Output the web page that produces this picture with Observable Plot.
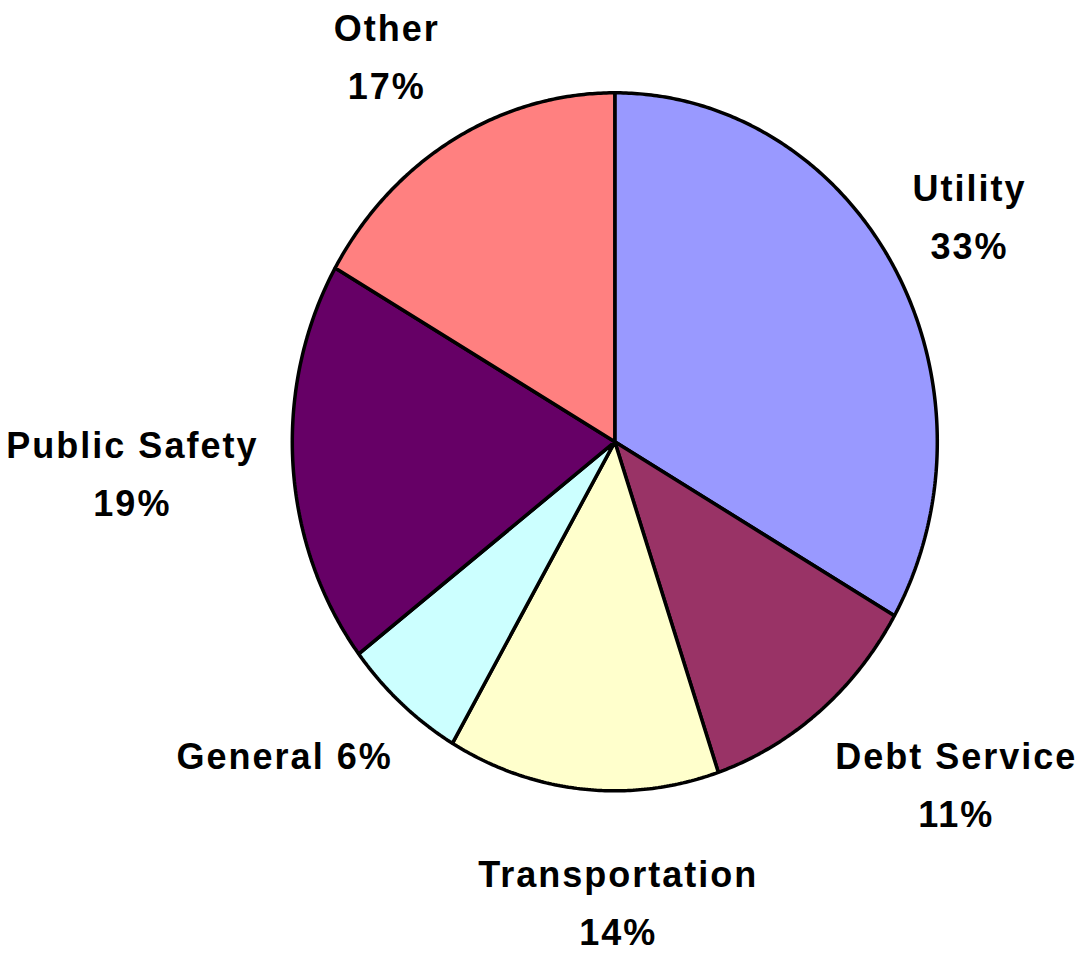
<!DOCTYPE html>
<html>
<head>
<meta charset="utf-8">
<script src="https://cdn.jsdelivr.net/npm/d3@7"></script>
<script src="https://cdn.jsdelivr.net/npm/@observablehq/plot@0.6"></script>
<style>
  html, body { margin: 0; padding: 0; background: #ffffff; }
  #chart svg text { letter-spacing: 2px; }
</style>
</head>
<body>
<div id="chart"></div>
<script>
// Data (clockwise from 12 o'clock)
const categories = ["Utility", "Debt Service", "Transportation", "General", "Public Safety", "Other"];
const values = [33.3, 11.5, 13.6, 6.2, 18.7, 16.7];
const labelTexts = ["Utility\n33%", "Debt Service\n11%", "Transportation\n14%", "General 6%", "Public Safety\n19%", "Other\n17%"];
const palette = ["#9999FF", "#993366", "#FFFFCC", "#CCFFFF", "#660066", "#FF8080"];

// Label layout: angular nudge (degrees) from slice mid-angle, and radius (in pie radii)
const labelLayout = {
  "Utility": {da: -0.2, r: 1.27},
  "Debt Service": {da: -7.5, r: 1.445},
  "Transportation": {da: -6.1, r: 1.325},
  "General": {da: 7.25, r: 1.368},
  "Public Safety": {da: 0.15, r: 1.502},
  "Other": {da: -2.8, r: 1.309}
};

const total = d3.sum(values);
const slicePoints = [];
const labels = [];
let cum = 0;
categories.forEach((name, i) => {
  const a0 = cum / total * 2 * Math.PI;
  const a1 = (cum + values[i]) / total * 2 * Math.PI;
  const n = Math.max(2, Math.ceil((a1 - a0) * 180 / Math.PI / 0.5));
  slicePoints.push({name, x: 0, y: 0});
  for (let k = 0; k <= n; k++) {
    const a = a0 + (a1 - a0) * k / n;
    slicePoints.push({name, x: Math.sin(a), y: Math.cos(a)});
  }
  const lay = labelLayout[name];
  const am = (a0 + a1) / 2 + lay.da * Math.PI / 180;
  labels.push({name, text: labelTexts[i], x: lay.r * Math.sin(am), y: lay.r * Math.cos(am)});
  cum += values[i];
});

const cx = 614.3, cy = 441.3, rx = 322.5, ry = 349;

const chart = Plot.plot({
  width: 1079,
  height: 953,
  margin: 0,
  style: {background: "#ffffff", fontFamily: "'Liberation Sans', Arial, sans-serif"},
  x: {domain: [-1, 1], range: [cx - rx, cx + rx], axis: null},
  y: {domain: [-1, 1], range: [cy + ry, cy - ry], axis: null},
  color: {type: "ordinal", domain: categories, range: palette, legend: false},
  marks: [
    Plot.line(slicePoints, {
      x: "x", y: "y", z: "name", fill: "name",
      stroke: "#000000", strokeWidth: 3.5, strokeLinejoin: "miter",
      curve: "linear-closed"
    }),
    Plot.text(labels, {
      x: "x", y: "y", text: "text", dy: -7, dx: 1,
      fontSize: 36, fontWeight: "bold", fill: "#000000",
      fontFamily: "'Liberation Sans', Arial, sans-serif",
      lineHeight: 1.61, lineAnchor: "middle", textAnchor: "middle"
    })
  ]
});
document.getElementById("chart").appendChild(chart);
</script>
</body>
</html>
